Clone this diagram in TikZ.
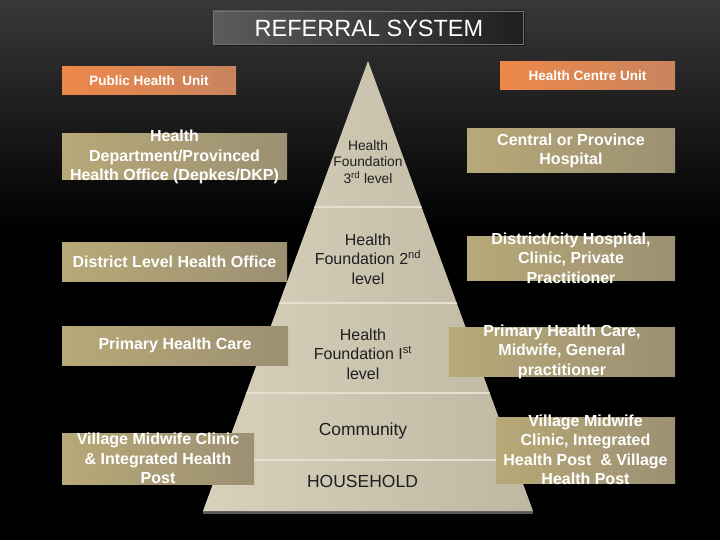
\documentclass[tikz,border=0pt]{standalone}
\usepackage{fontspec}
\setmainfont{Liberation Sans}
\definecolor{orangeL}{HTML}{EE884A}
\definecolor{orangeR}{HTML}{C8845E}
\definecolor{tanL}{HTML}{B7A977}
\definecolor{tanR}{HTML}{9C9073}
\definecolor{pyrL}{HTML}{D8D2BD}
\definecolor{pyrR}{HTML}{BEB7A1}
\definecolor{sepline}{HTML}{E4E0D0}
\tikzset{
  orangebox/.style={left color=orangeL, right color=orangeR, inner sep=0pt},
  tanbox/.style={left color=tanL, right color=tanR, inner sep=0pt},
  boxtext/.style={text=white, font=\bfseries\fontsize{16}{19.5}\selectfont, align=center, inner sep=0pt},
  unittext/.style={text=white, font=\bfseries\fontsize{13.5}{16}\selectfont, inner sep=0pt},
  pyrtext/.style={text=black!88, font=\fontsize{16}{19.5}\selectfont, align=center, inner sep=0pt},
}
\begin{document}
\begin{tikzpicture}[x=1pt,y=-1pt]
\useasboundingbox (0,0) rectangle (720,540);
% background
\fill[black] (0,0) rectangle (720,540);
\shade[top color=black!78, bottom color=black] (0,0) rectangle (720,230);

% title
\fill[black!92] (215,13) rectangle (525,46);
\node[left color=black!64, right color=black!88, draw=black!55, line width=0.6pt, minimum width=310pt, minimum height=33pt, inner sep=0pt] (title) at (368,27.5) {};
\node[text=white, font=\fontsize{23.5}{26}\selectfont] (titletext) at (369,28) {REFERRAL SYSTEM};

% pyramid
\coordinate (apex) at (368,61);
\coordinate (bl) at (203,511);
\coordinate (br) at (533,511);
\fill[black!65] (203,511) rectangle (533,514);
\shade[left color=pyrL, right color=pyrR] (apex) -- (bl) -- (br) -- cycle;
\begin{scope}
  \clip (apex) -- (bl) -- (br) -- cycle;
  \foreach \yy in {207,303,393,460}
    \draw[sepline, line width=1.5pt] (190,\yy) -- (550,\yy);
\end{scope}

\node[pyrtext, font=\fontsize{13.8}{16.5}\selectfont] (level3) at (368,162) {Health\\Foundation\\3\textsuperscript{rd} level};
\node[pyrtext] (level2) at (368,259) {Health\\Foundation 2\textsuperscript{nd}\\level};
\node[pyrtext] (level1) at (363,354) {Health\\Foundation I\textsuperscript{st}\\level};
\node[pyrtext, font=\fontsize{17.5}{20}\selectfont] (community) at (363,431) {Community};
\node[pyrtext, font=\fontsize{17.5}{20}\selectfont] (household) at (362.5,481) {HOUSEHOLD};

% unit headers
\node[orangebox, minimum width=174pt, minimum height=28pt] (publicunit) at (149,81) {};
\node[unittext] at (publicunit.center) {Public Health\ \ Unit};
\node[orangebox, minimum width=175pt, minimum height=28pt] (centreunit) at (587.5,76) {};
\node[unittext] at (centreunit.center) {Health Centre Unit};

% left column
\node[tanbox, minimum width=225pt, minimum height=46pt] (dinkes) at (174.5,157) {};
\node[boxtext] at (dinkes.center) {Health\\Department/Provinced\\Health Office (Depkes/DKP)};
\node[tanbox, minimum width=225pt, minimum height=39pt] (distoffice) at (174.5,261.5) {};
\node[boxtext] at (distoffice.center) {District Level Health Office};
\node[tanbox, minimum width=226pt, minimum height=39pt] (phc) at (175,345.5) {};
\node[boxtext] at (phc.center) {Primary Health Care};
\node[tanbox, minimum width=192pt, minimum height=51pt] (villclinic) at (158,458.5) {};
\node[boxtext] at (villclinic.center) {Village Midwife Clinic\\\& Integrated Health\\Post};

% right column
\node[tanbox, minimum width=208pt, minimum height=44pt] (centralhosp) at (571,151) {};
\node[boxtext] at (centralhosp.center) {Central or Province\\Hospital};
\node[tanbox, minimum width=208pt, minimum height=44pt] (disthosp) at (571,258) {};
\node[boxtext] at (disthosp.center) {District/city Hospital,\\Clinic, Private\\Practitioner};
\node[tanbox, minimum width=226pt, minimum height=49pt] (phcmid) at (562,351.5) {};
\node[boxtext] at (phcmid.center) {Primary Health Care,\\Midwife, General\\practitioner};
\node[tanbox, minimum width=179pt, minimum height=66pt] (villpost) at (585.5,450) {};
\node[boxtext] at (villpost.center) {Village Midwife\\Clinic, Integrated\\Health Post\ \ \& Village\\Health Post};
\end{tikzpicture}
\end{document}
